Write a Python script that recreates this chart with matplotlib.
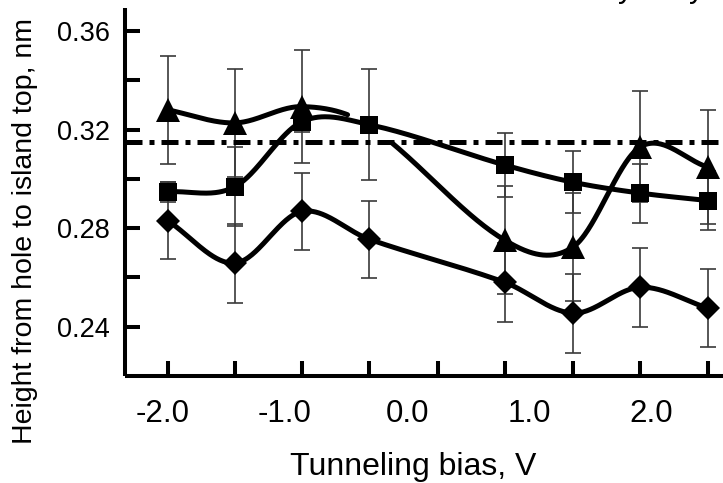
import numpy as np
import matplotlib
matplotlib.use("Agg")
import matplotlib.pyplot as plt

plt.rcParams["font.family"] = ["Liberation Sans", "DejaVu Sans"]

# measurement biases (V) -- every one gets a tick on the x axis
bias_ticks = [-1.96, -1.41, -0.86, -0.31, 0.25, 0.80, 1.36, 1.91, 2.46]
bias = [-1.96, -1.41, -0.86, -0.31, 0.80, 1.36, 1.91, 2.46]

# triangles: the point at -0.31 V is hidden in the original, only the curve shows it
tri_h = [0.3280, 0.3227, 0.3293, 0.3215, 0.2751, 0.2724, 0.3130, 0.3048]
tri_err = [0.022, 0.022, 0.023, 0.0, 0.022, 0.022, 0.0225, 0.023]
tri_hidden = 3

sq_h = [0.2947, 0.2968, 0.3232, 0.3220, 0.3056, 0.2986, 0.2942, 0.2912]
sq_err = [0.004, 0.016, 0.004, 0.0225, 0.013, 0.0126, 0.012, 0.012]

dia_h = [0.2830, 0.2658, 0.2868, 0.2755, 0.2580, 0.2455, 0.2560, 0.2476]
dia_err = [0.0157, 0.016, 0.0155, 0.0157, 0.0161, 0.016, 0.016, 0.0157]

ref_level = 0.315

xtick_vals = [-2.0, -1.0, 0.0, 1.0, 2.0]
ytick_major = [0.24, 0.28, 0.32, 0.36]
ytick_minor = [0.26, 0.30, 0.34]


def smooth(x, y, n=60):
    # cubic Hermite curve with Catmull-Rom tangents (like a "smoothed line")
    x = np.asarray(x, float)
    y = np.asarray(y, float)
    m = np.empty_like(y)
    m[1:-1] = (y[2:] - y[:-2]) / (x[2:] - x[:-2])
    m[0] = (y[1] - y[0]) / (x[1] - x[0])
    m[-1] = (y[-1] - y[-2]) / (x[-1] - x[-2])
    xs, ys = [], []
    t = np.linspace(0, 1, n)
    for i in range(len(x) - 1):
        h = x[i + 1] - x[i]
        h00 = 2 * t**3 - 3 * t**2 + 1
        h10 = t**3 - 2 * t**2 + t
        h01 = -2 * t**3 + 3 * t**2
        h11 = t**3 - t**2
        xs.append(x[i] + t * h)
        ys.append(h00 * y[i] + h10 * h * m[i] + h01 * y[i + 1] + h11 * h * m[i + 1])
    return np.concatenate(xs), np.concatenate(ys)


fig = plt.figure(figsize=(7.23, 4.83), dpi=100)
ax = fig.add_axes([125 / 723, 107.5 / 483, 1 - 125 / 723, 367.2 / 483])

lw = 3.6
err_kw = dict(fmt="none", ecolor="#3a3a3a", elinewidth=1.2, capsize=5.5,
              capthick=1.2, zorder=2)

# curves
xs, ys = smooth(bias, tri_h)
ys = np.where(np.abs(xs - bias[tri_hidden]) < 0.17, np.nan, ys)
ax.plot(xs, ys, color="black", lw=lw, zorder=3, solid_capstyle="round")
xs, ys = smooth(bias, sq_h)
ax.plot(xs, ys, color="black", lw=lw, zorder=3)
xs, ys = smooth(bias, dia_h)
ax.plot(xs, ys, color="black", lw=lw, zorder=3)

ax.axhline(ref_level, color="black", lw=3.6, dashes=(3.4, 1.4, 1.0, 1.4),
           dash_capstyle="butt", zorder=2.5)

# error bars + markers
tri_x = [b for i, b in enumerate(bias) if i != tri_hidden]
tri_y = [v for i, v in enumerate(tri_h) if i != tri_hidden]
tri_e = [v for i, v in enumerate(tri_err) if i != tri_hidden]
ax.errorbar(tri_x, tri_y, yerr=tri_e, **err_kw)
ax.errorbar(bias, sq_h, yerr=sq_err, **err_kw)
ax.errorbar(bias, dia_h, yerr=dia_err, **err_kw)

ax.plot(tri_x, tri_y, ls="none", marker="^", ms=17.5, mfc="black", mec="black",
        mew=0, zorder=5)
ax.plot(bias, sq_h, ls="none", marker="s", ms=13, mfc="black", mec="black",
        mew=0, zorder=5)
ax.plot(bias, dia_h, ls="none", marker="D", ms=11.8, mfc="black", mec="black",
        mew=0, zorder=5)

ax.set_xlim(-2.309, 2.586)
ax.set_ylim(0.2202, 0.3692)

for side in ["top", "right"]:
    ax.spines[side].set_visible(False)
for side in ["left", "bottom"]:
    ax.spines[side].set_linewidth(2.9)
    ax.spines[side].set_capstyle("butt")

ax.set_xticks(xtick_vals)
ax.set_xticklabels([f"{v:.1f}" for v in xtick_vals])
ax.set_xticks(bias_ticks, minor=True)
ax.tick_params(axis="x", which="major", length=0, pad=17, labelsize=22.5)
ax.tick_params(axis="x", which="minor", direction="in", length=10.8, width=2.9)

ax.set_yticks(ytick_major)
ax.set_yticklabels([f"{v:.2f}" for v in ytick_major])
ax.set_yticks(ytick_minor, minor=True)
ax.tick_params(axis="y", which="both", direction="in", length=10.8, width=2.9)
ax.tick_params(axis="y", which="major", pad=10.8, labelsize=19.5)

ax.set_xlabel("Tunneling bias, V", fontsize=23)
ax.xaxis.set_label_coords(0.482, -0.208)
ax.set_ylabel("Height from hole to island top, nm", fontsize=20.5)
ax.yaxis.set_label_coords(-0.1447, 0.3935)

# bits of a caption that the top edge of the picture cuts off (as in the original)
fig.text(626 / 723, 1.007, "y", fontsize=22, ha="center", va="baseline")
fig.text(697 / 723, 1.007, "y", fontsize=22, ha="center", va="baseline")

fig.savefig("out.png", dpi=100)
